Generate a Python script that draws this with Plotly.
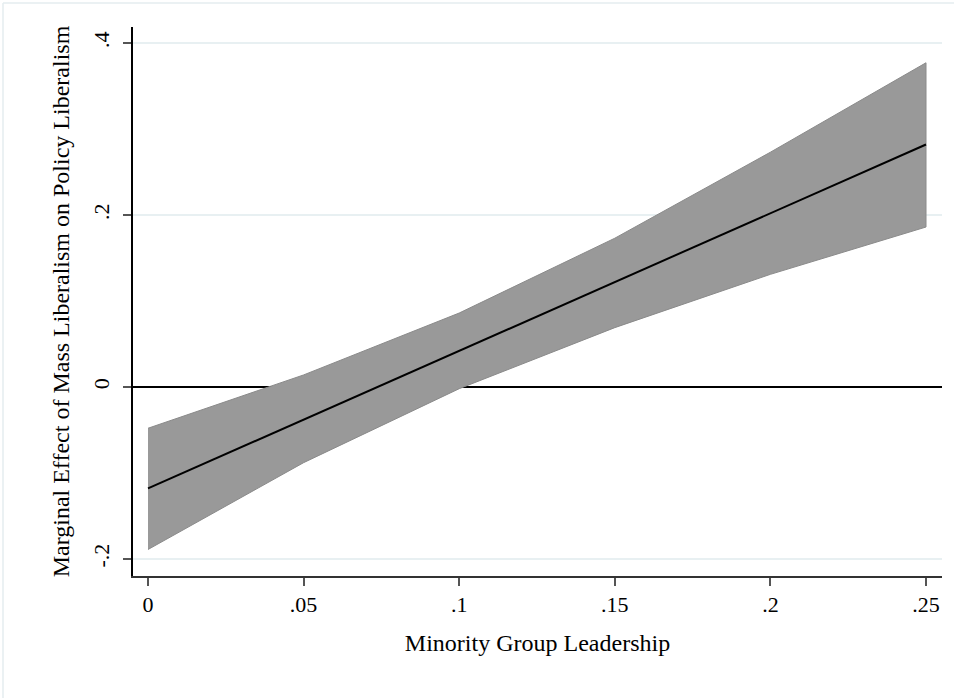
import plotly.graph_objects as go

x_vals = [0, 0.05, 0.10, 0.15, 0.20, 0.25]
estimate = [-0.118, -0.038, 0.042, 0.122, 0.202, 0.282]
upper_ci = [-0.048, 0.014, 0.086, 0.173, 0.273, 0.377]
lower_ci = [-0.189, -0.088, -0.002, 0.069, 0.131, 0.186]

x_ticks = [0, 0.05, 0.10, 0.15, 0.20, 0.25]
x_ticklabels = ["0", ".05", ".1", ".15", ".2", ".25"]
y_ticks = [-0.2, 0, 0.2, 0.4]
y_ticklabels = ["-.2", "0", ".2", ".4"]

x_title = "Minority Group Leadership"
y_title = "Marginal Effect of Mass Liberalism on Policy Liberalism"

FONT = "Liberation Serif, Times New Roman, serif"

fig = go.Figure()
fig.add_trace(go.Scatter(
    x=x_vals + x_vals[::-1],
    y=upper_ci + lower_ci[::-1],
    fill="toself",
    fillcolor="#999999",
    line=dict(color="#8a8a8a", width=1),
    mode="lines",
    hoverinfo="skip",
    showlegend=False,
))
fig.add_trace(go.Scatter(
    x=x_vals, y=estimate, mode="lines",
    line=dict(color="black", width=2),
    showlegend=False,
))

fig.update_layout(
    width=954, height=698,
    margin=dict(l=133, r=12, t=27, b=122),
    paper_bgcolor="white",
    plot_bgcolor="white",
    font=dict(family=FONT, size=22, color="black"),
    showlegend=False,
)
fig.update_xaxes(
    range=[-0.00482, 0.25514],
    tickvals=x_ticks, ticktext=x_ticklabels,
    showgrid=False, zeroline=False,
    showline=True, linecolor="#333333", linewidth=1.5,
    ticks="outside", ticklen=8, tickcolor="#555555", tickwidth=1.5,
    tickfont=dict(family=FONT, size=22),
    title=dict(text=x_title, font=dict(family=FONT, size=24), standoff=18),
)
fig.update_yaxes(
    range=[-0.2198, 0.4186],
    tickvals=y_ticks, ticktext=y_ticklabels,
    tickangle=-90,
    ticklabelstandoff=5,
    showgrid=True, gridcolor="#e8f0f2", gridwidth=1.5,
    zeroline=True, zerolinecolor="black", zerolinewidth=2,
    showline=True, linecolor="black", linewidth=1.5,
    ticks="outside", ticklen=8, tickcolor="#555555", tickwidth=1.5,
    tickfont=dict(family=FONT, size=22),
    title=dict(text=y_title, font=dict(family=FONT, size=24), standoff=13),
)
# thin light frame along the top and left edges of the picture
fig.add_shape(type="line", xref="paper", yref="paper",
              x0=-130/809, x1=1 + 12/809, y0=1 + 24/549, y1=1 + 24/549,
              line=dict(color="#e4ecef", width=1.5), layer="below")
fig.add_shape(type="line", xref="paper", yref="paper",
              x0=-130/809, x1=-130/809, y0=-122/549, y1=1 + 24/549,
              line=dict(color="#e4ecef", width=1.5), layer="below")

fig.write_html("out.html", config={"displayModeBar": False},
               post_script="document.body.style.margin='0';")
